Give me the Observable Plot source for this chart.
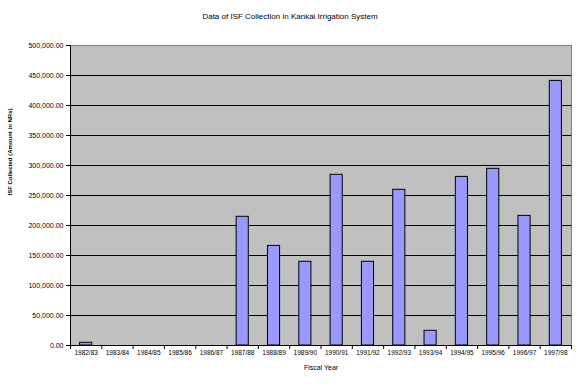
<!DOCTYPE html>
<html>
<head>
<meta charset="utf-8">
<script src="https://cdn.jsdelivr.net/npm/d3@7"></script>
<script src="https://cdn.jsdelivr.net/npm/@observablehq/plot@0.6"></script>
<style>
  html, body { margin: 0; padding: 0; background: #fff; }
  #wrap { position: relative; width: 580px; height: 389px; font-family: "Liberation Sans", Arial, sans-serif; }
  #title { position: absolute; top: 12px; left: 0; width: 580px; text-align: center; font-size: 8px; color: #000; }
  #chart { position: absolute; top: 0; left: 0; }
</style>
</head>
<body>
<div id="wrap">
  <div id="chart"></div>
  <div id="title">Data of ISF Collection in Kankai Irrigation System</div>
</div>
<script>
const categories = ["1982/83","1983/84","1984/85","1985/86","1986/87","1987/88","1988/89","1989/90",
  "1990/91","1991/92","1992/93","1993/94","1994/95","1995/96","1996/97","1997/98"];
const values = [4500, 0, 0, 0, 0, 214500, 166000, 139500, 284500, 139500, 259500, 24500, 281000, 294500, 216000, 441000];
const yTicks = [0, 50000, 100000, 150000, 200000, 250000, 300000, 350000, 400000, 450000, 500000];
const gridTicks = [50000, 100000, 150000, 200000, 250000, 300000, 350000, 400000, 450000];
const xTitle = "Fiscal Year";
const yTitle = "ISF Collected (Amount in NRs)";

const data = categories.map((c, i) => ({cat: c, i, value: values[i]}));
const fmt = d3.format(",.2f");

const chart = Plot.plot({
  width: 580,
  height: 389,
  marginLeft: 70,
  marginRight: 9,
  marginTop: 45,
  marginBottom: 44,
  style: {fontFamily: "Liberation Sans, Arial, sans-serif", background: "white", color: "black"},
  x: {domain: [0, categories.length], axis: null},
  y: {domain: [0, 500000], axis: null},
  marks: [
    Plot.frame({fill: "#c0c0c0", stroke: null}),
    Plot.gridY(gridTicks, {stroke: "black", strokeOpacity: 1, strokeWidth: 1}),
    Plot.ruleY([500000], {stroke: "#808080"}),
    Plot.ruleX([categories.length], {stroke: "#808080"}),
    Plot.rectY(data, {x1: "i", x2: d => d.i + 1, y1: 0, y2: "value", insetLeft: 9.6, insetRight: 9.6,
      fill: "#9999ff", stroke: "black", strokeWidth: 1}),
    Plot.ruleX([0], {stroke: "black"}),
    Plot.ruleY([0], {stroke: "black"}),
    Plot.axisY({ticks: yTicks, tickFormat: fmt, tickSize: 4, tickPadding: 3, fontSize: 7, label: null}),
    Plot.axisX({ticks: d3.range(0, categories.length + 1), tickFormat: () => "", tickSize: 4, label: null}),
    Plot.axisX({ticks: d3.range(0, categories.length).map(i => i + 0.5), tickFormat: d => categories[Math.floor(d)],
      tickSize: 0, tickPadding: 5, fontSize: 6.5, label: null}),
    Plot.text([xTitle], {text: d => d, frameAnchor: "bottom", dy: 24, fontSize: 7}),
    Plot.text([yTitle], {text: d => d, frameAnchor: "left", dx: -60, rotate: -90, fontSize: 6, fontWeight: "bold"})
  ]
});
document.getElementById("chart").appendChild(chart);
</script>
</body>
</html>
